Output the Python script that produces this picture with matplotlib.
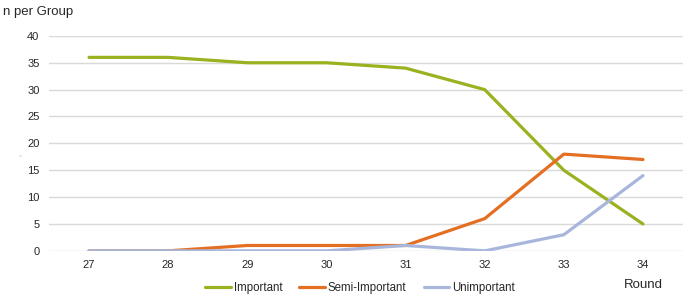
import matplotlib
matplotlib.use('Agg')
import matplotlib.pyplot as plt
import numpy as np

rounds = ['27', '28', '29', '30', '31', '32', '33', '34']
important = [36, 36, 35, 35, 34, 30, 15, 5]
semi_important = [0, 0, 1, 1, 1, 6, 18, 17]
unimportant = [0, 0, 0, 0, 1, 0, 3, 14]

plt.rcParams['font.family'] = ['Liberation Sans', 'DejaVu Sans']

fig = plt.figure(figsize=(6.87, 2.99), dpi=100, facecolor='w')
# plot area: 50..683 px wide, 36..251 px tall
ax = fig.add_axes([0.072, 0.161, 0.9215, 0.719])

x = np.arange(len(rounds))
ax.plot(x, important, c='#9BB11F', lw=2.3, label='Important', solid_capstyle='round')
ax.plot(x, semi_important, c='#E46F22', lw=2.3, label='Semi-Important', solid_capstyle='round')
ax.plot(x, unimportant, c='#A9B6DC', lw=2.3, label='Unimportant', solid_capstyle='round')

ax.set_xlim(-0.5, 7.5)
ax.set_ylim(0, 40)
ax.set_yticks(np.arange(0, 41, 5))
ax.set_xticks(x)
ax.set_xticklabels(rounds)
ax.grid(axis='y', color='#D9D9D9', lw=1)
ax.set_axisbelow(True)
for s in ax.spines.values():
    s.set_visible(False)
ax.tick_params(length=0, labelsize=8, colors='#262626')
ax.tick_params(axis='x', pad=6.5)
ax.tick_params(axis='y', pad=7.2)

fig.text(0.004, 0.96, 'n per Group', fontsize=9.5, color='#262626', va='center')
fig.text(0.937, 0.047, 'Round', fontsize=9.5, color='#262626', va='center', ha='center')
fig.text(0.029, 0.478, '\u2022', fontsize=6, color='#E0E0E0', va='center', ha='center')

fig.legend(loc='center', bbox_to_anchor=(0.524, 0.037), ncol=3, frameon=False,
           fontsize=8.3, handlelength=2.2, handletextpad=0.25, columnspacing=1.5,
           labelcolor='#262626')

fig.savefig('out.png', dpi=100)
